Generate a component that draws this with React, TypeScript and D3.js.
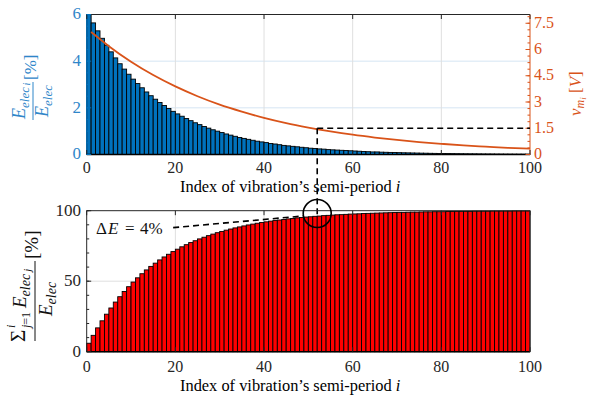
import React from 'react';
import * as d3 from 'd3';

// Share of electrical energy harvested at each semi-period i (percent)
const energyPct = [
  6.00, 5.64, 5.30, 4.98, 4.68, 4.40, 4.14, 3.89, 3.66, 3.44,
  3.23, 3.04, 2.86, 2.68, 2.52, 2.37, 2.23, 2.10, 1.97, 1.85,
  1.74, 1.64, 1.54, 1.45, 1.36, 1.28, 1.20, 1.13, 1.06, 1.00,
  0.94, 0.88, 0.83, 0.78, 0.73, 0.69, 0.65, 0.61, 0.57, 0.54,
  0.51, 0.47, 0.45, 0.42, 0.39, 0.37, 0.35, 0.33, 0.31, 0.29,
  0.27, 0.26, 0.24, 0.23, 0.21, 0.20, 0.19, 0.18, 0.17, 0.16,
  0.15, 0.14, 0.13, 0.12, 0.11, 0.11, 0.10, 0.095, 0.089, 0.084,
  0.079, 0.074, 0.070, 0.066, 0.062, 0.058, 0.055, 0.051, 0.048, 0.045,
  0.043, 0.040, 0.038, 0.035, 0.033, 0.031, 0.029, 0.028, 0.026, 0.024,
  0.023, 0.022, 0.020, 0.019, 0.018, 0.017, 0.016, 0.015, 0.014, 0.013,
];

// Cumulative share of energy (percent)
const cumulativePct = [
  6.0, 11.6, 16.9, 21.9, 26.6, 31.0, 35.2, 39.0, 42.7, 46.1,
  49.4, 52.4, 55.3, 58.0, 60.5, 62.8, 65.1, 67.2, 69.1, 71.0,
  72.7, 74.4, 75.9, 77.4, 78.7, 80.0, 81.2, 82.3, 83.4, 84.4,
  85.3, 86.2, 87.0, 87.8, 88.5, 89.2, 89.9, 90.5, 91.1, 91.6,
  92.1, 92.6, 93.0, 93.4, 93.8, 94.2, 94.5, 94.9, 95.2, 95.5,
  95.7, 96.0, 96.2, 96.5, 96.7, 96.9, 97.1, 97.2, 97.4, 97.6,
  97.7, 97.8, 98.0, 98.1, 98.2, 98.3, 98.4, 98.5, 98.6, 98.7,
  98.8, 98.8, 98.9, 99.0, 99.0, 99.1, 99.2, 99.2, 99.3, 99.3,
  99.3, 99.4, 99.4, 99.5, 99.5, 99.5, 99.5, 99.6, 99.6, 99.6,
  99.6, 99.7, 99.7, 99.7, 99.7, 99.7, 99.8, 99.8, 99.8, 99.8,
];

// Voltage amplitude v_mi [V] read at selected semi-periods
const voltIndex = [1, 5, 10, 15, 20, 25, 30, 35, 40, 45, 50, 55, 60, 65, 70, 75, 80, 85, 90, 95, 100];
const voltValue = [7.0, 6.19, 5.30, 4.54, 3.89, 3.33, 2.85, 2.45, 2.09, 1.79, 1.54, 1.32, 1.13, 0.97, 0.83, 0.71, 0.61, 0.52, 0.45, 0.38, 0.33];

const xTicks = [0, 20, 40, 60, 80, 100];
const topLeftTicks = [0, 2, 4, 6];
const topRightTicks = [0, 1.5, 3, 4.5, 6, 7.5];
const bottomTicks = [0, 50, 100];

const markIndex = 52;
const markVolt = 1.5;
const markCum = 97;
const deltaLabel = '4%';

const BLUE = '#0072BD';
const BLUE_TXT = '#2f86c9';
const ORANGE = '#D95319';
const AX = '#262626';
const SERIF = '"Liberation Serif", "Times New Roman", serif';
const TICK_FS = 16;

export default function App() {
  const L = 86.7, R = 530;
  const x = d3.scaleLinear().domain([0, 100]).range([L, R]);
  const yT = d3.scaleLinear().domain([0, 6]).range([154.5, 14.5]);
  const yV = d3.scaleLinear().domain([0, 8]).range([154.5, 14.5]);
  const yB = d3.scaleLinear().domain([0, 100]).range([351.7, 210.7]);

  const voltLine = d3.line<number>()
    .x((_, k) => x(voltIndex[k]))
    .y((d) => yV(d))
    .curve(d3.curveMonotoneX)(voltValue) as string;

  const leftMinorT = d3.range(0, 6.001, 0.5);
  const rightMinorT = d3.range(0, 8.001, 0.375);
  const bottomMinor = d3.range(0, 100.001, 10);
  const tk = 4.5;

  return (
    <svg width={603} height={396} style={{ position: 'absolute', left: 0, top: 0, background: '#fff' }}
      fontFamily={SERIF}>
      {/* ---------- TOP PANEL ---------- */}
      {[2, 4].map((v) => (
        <line key={'tg' + v} x1={L} x2={R} y1={yT(v)} y2={yT(v)} stroke="#d5e5f3" strokeWidth={1} />
      ))}
      {[20, 40, 60, 80].map((v) => (
        <line key={'tvg' + v} x1={x(v)} x2={x(v)} y1={yT(6)} y2={yT(0)} stroke="#dfdfdf" strokeWidth={1} />
      ))}
      {energyPct.map((v, k) => (
        <rect key={'eb' + k} x={x(k)} width={x(k + 1) - x(k)} y={yT(Math.min(v, 6))}
          height={yT(0) - yT(Math.min(v, 6))} fill={BLUE} stroke="#000" strokeWidth={0.9} />
      ))}
      <path d={voltLine} fill="none" stroke={ORANGE} strokeWidth={1.8} />
      <line x1={L} x2={R} y1={yT(6)} y2={yT(6)} stroke={AX} strokeWidth={1} />
      <line x1={L} x2={R} y1={yT(0)} y2={yT(0)} stroke="#000" strokeWidth={1.6} />
      <line x1={L} x2={L} y1={yT(0)} y2={yT(6)} stroke={BLUE} strokeWidth={1} />
      <line x1={R} x2={R} y1={yV(0)} y2={yV(8)} stroke={ORANGE} strokeWidth={1} />
      {xTicks.map((v) => (
        <g key={'xt' + v}>
          <line x1={x(v)} x2={x(v)} y1={yT(0)} y2={yT(0) - tk} stroke={AX} />
          <line x1={x(v)} x2={x(v)} y1={yT(6)} y2={yT(6) + tk} stroke={AX} />
          <text x={x(v)} y={173} textAnchor="middle" fontSize={TICK_FS} fill={AX}>{v}</text>
        </g>
      ))}
      {leftMinorT.map((v, k) => (
        <line key={'lm' + k} x1={L} x2={L + 2.5} y1={yT(v)} y2={yT(v)} stroke={BLUE} />
      ))}
      {topLeftTicks.map((v) => (
        <g key={'lt' + v}>
          <line x1={L} x2={L + tk} y1={yT(v)} y2={yT(v)} stroke={BLUE} />
          <text x={81} y={yT(v) + 4.8} textAnchor="end" fontSize={TICK_FS + 1} fill={BLUE_TXT}>{v}</text>
        </g>
      ))}
      {rightMinorT.map((v, k) => (
        <line key={'rm' + k} x1={R - 2.5} x2={R} y1={yV(v)} y2={yV(v)} stroke={ORANGE} />
      ))}
      {topRightTicks.map((v) => (
        <g key={'rt' + v}>
          <line x1={R - tk} x2={R} y1={yV(v)} y2={yV(v)} stroke={ORANGE} />
          <text x={534} y={yV(v) + 4.5} textAnchor="start" fontSize={TICK_FS} fill={ORANGE}>{v}</text>
        </g>
      ))}
      <line x1={x(markIndex)} x2={x(100)} y1={yV(markVolt)} y2={yV(markVolt)} stroke="#000"
        strokeWidth={1.6} strokeDasharray="6,4" />
      <line x1={x(markIndex)} x2={x(markIndex)} y1={yV(markVolt)} y2={yB(markCum)} stroke="#000"
        strokeWidth={1.6} strokeDasharray="6,4" />
      <text x={180} y={191.5} fontSize={16.4} fill="#000">
        Index of vibration’s semi-period <tspan fontStyle="italic">i</tspan>
      </text>
      {/* left y label top */}
      <g transform="translate(33,101) rotate(-90)" fill={BLUE_TXT}>
        <text x={-18} y={-8} fontSize={18} fontStyle="italic">E<tspan fontSize={13} dy={3.5}>elec</tspan><tspan fontSize={10} dx={1.5} dy={1.5}>i</tspan></text>
        <line x1={-19} x2={19} y1={0} y2={0} stroke={BLUE_TXT} strokeWidth={1} />
        <text x={-16} y={15} fontSize={18} fontStyle="italic">E<tspan fontSize={13} dy={3.5}>elec</tspan></text>
        <text x={21} y={3} fontSize={17}>[%]</text>
      </g>
      {/* right y label */}
      <g transform="translate(581,89) rotate(-90)" fill={ORANGE}>
        <text x={-27} y={0} fontSize={17}><tspan fontStyle="italic">v</tspan><tspan fontSize={12} dy={3} fontStyle="italic">m</tspan><tspan fontSize={9} dy={2} fontStyle="italic">i</tspan><tspan dy={-5}> [</tspan><tspan fontStyle="italic">V</tspan><tspan>]</tspan></text>
      </g>

      {/* ---------- BOTTOM PANEL ---------- */}
      {[20, 40, 60, 80].map((v) => (
        <line key={'bvg' + v} x1={x(v)} x2={x(v)} y1={yB(100)} y2={yB(0)} stroke="#dfdfdf" strokeWidth={1} />
      ))}
      <line x1={L} x2={R} y1={yB(50)} y2={yB(50)} stroke="#dfdfdf" strokeWidth={1} />
      {cumulativePct.map((v, k) => (
        <rect key={'cb' + k} x={x(k)} width={x(k + 1) - x(k)} y={yB(v)}
          height={yB(0) - yB(v)} fill="#FF0000" stroke="#000" strokeWidth={0.9} />
      ))}
      <line x1={L} x2={R} y1={yB(100)} y2={yB(100)} stroke={AX} strokeWidth={1} />
      <line x1={L} x2={R} y1={yB(0)} y2={yB(0)} stroke="#000" strokeWidth={1.4} />
      <line x1={L} x2={L} y1={yB(0)} y2={yB(100)} stroke={AX} strokeWidth={1} />
      <line x1={R} x2={R} y1={yB(0)} y2={yB(100)} stroke={AX} strokeWidth={1} />
      {xTicks.map((v) => (
        <g key={'bxt' + v}>
          <line x1={x(v)} x2={x(v)} y1={yB(0)} y2={yB(0) - tk} stroke={AX} />
          <line x1={x(v)} x2={x(v)} y1={yB(100)} y2={yB(100) + tk} stroke={AX} />
          <text x={x(v)} y={372} textAnchor="middle" fontSize={TICK_FS} fill={AX}>{v}</text>
        </g>
      ))}
      {bottomMinor.map((v, k) => (
        <line key={'bm' + k} x1={L} x2={L + 2.5} y1={yB(v)} y2={yB(v)} stroke={AX} />
      ))}
      {bottomTicks.map((v) => (
        <g key={'bt' + v}>
          <line x1={L} x2={L + tk} y1={yB(v)} y2={yB(v)} stroke={AX} />
          <text x={81} y={yB(v) + 5} textAnchor="end" fontSize={TICK_FS + 1} fill={AX}>{v}</text>
        </g>
      ))}
      <circle cx={x(52)} cy={yB(98)} r={14} fill="none" stroke="#000" strokeWidth={1.6} />
      <line x1={x(19.5)} y1={yB(88)} x2={x(49)} y2={yB(96.3)} stroke="#000" strokeWidth={1.6} strokeDasharray="6,4" />
      <g fontSize={17} fill="#111">
        <text x={96} y={234}>Δ</text>
        <text x={108} y={234} fontStyle="italic">E</text>
        <text x={125} y={234}>=</text>
        <text x={140} y={234}>{deltaLabel}</text>
      </g>
      <text x={180} y={390.5} fontSize={16.4} fill="#000">
        Index of vibration’s semi-period <tspan fontStyle="italic">i</tspan>
      </text>
      {/* bottom y label */}
      <g transform="translate(35,301) rotate(-90)" fill="#111">
        <text x={-41} y={-10} fontSize={21}>Σ</text>
        <text x={-27} y={-20} fontSize={12} fontStyle="italic">i</text>
        <text x={-27} y={-5} fontSize={12}><tspan fontStyle="italic">j</tspan>=1</text>
        <text x={-7} y={-9} fontSize={19} fontStyle="italic">E<tspan fontSize={14} dy={4}>elec</tspan><tspan fontSize={11} dx={2} dy={1}>j</tspan></text>
        <line x1={-40} x2={40} y1={0} y2={0} stroke="#111" strokeWidth={1} />
        <text x={-15} y={17} fontSize={19} fontStyle="italic">E<tspan fontSize={14} dy={4}>elec</tspan></text>
        <text x={42} y={3} fontSize={19}>[%]</text>
      </g>
    </svg>
  );
}
